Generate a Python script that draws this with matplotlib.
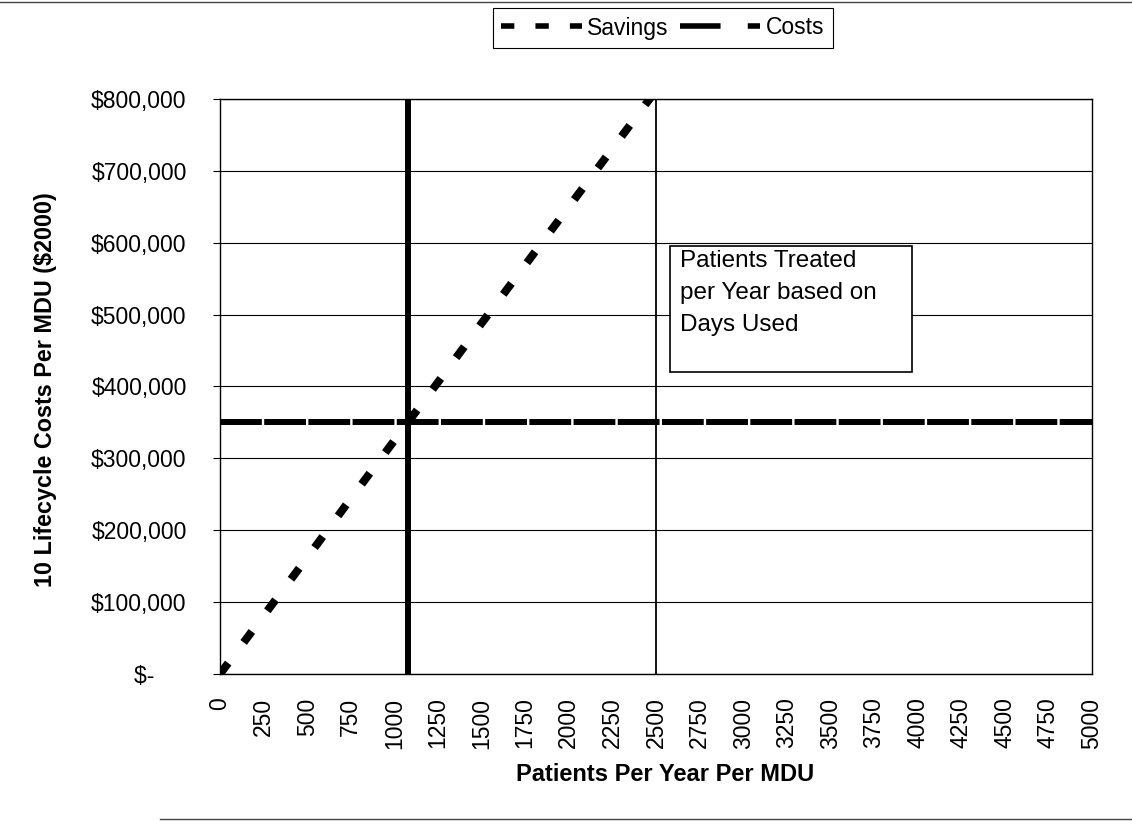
import matplotlib
matplotlib.use("Agg")
import matplotlib.pyplot as plt
from matplotlib.lines import Line2D
from matplotlib.patches import Rectangle
from matplotlib.ticker import FuncFormatter

plt.rcParams['font.family'] = ['Liberation Sans', 'DejaVu Sans']

# ---- data ----
patients_ticks = [0, 250, 500, 750, 1000, 1250, 1500, 1750, 2000, 2250, 2500,
                  2750, 3000, 3250, 3500, 3750, 4000, 4250, 4500, 4750, 5000]
savings_x = [0, 250, 500, 750, 1000, 1250, 1500, 1750, 2000, 2250, 2500]
savings_y = [0, 81000, 162000, 244000, 325000, 406000, 488000, 569000,
             650000, 731000, 812000]
costs_x = [0, 5000]
costs_y = [350000, 350000]
breakeven_x = [1080, 1080]
breakeven_y = [0, 800000]
days_used_x = [2500, 2500]
days_used_y = [0, 800000]
y_ticks = [0, 100000, 200000, 300000, 400000, 500000, 600000, 700000, 800000]
box_text = "Patients Treated\nper Year based on\nDays Used"

fig = plt.figure(figsize=(11.32, 8.21), dpi=100)
ax = fig.add_axes([220/1132, 1-674/821, 872/1132, 575/821])

ax.set_xlim(0, 5000)
ax.set_ylim(0, 800000)

ax.plot(savings_x, savings_y, color='black', lw=5.8,
        linestyle=(0, (1.7, 3.2)), solid_capstyle='butt', dash_capstyle='butt',
        zorder=3)
ax.plot(costs_x, costs_y, color='black', lw=4.3,
        linestyle=(0, (7, 0.4)), dash_capstyle='butt', zorder=3)
ax.plot(breakeven_x, breakeven_y, color='black', lw=4.3, zorder=3)
ax.plot(days_used_x, days_used_y, color='black', lw=1.3, zorder=3)

ax.set_yticks(y_ticks)
def yfmt(v, pos):
    if v == 0:
        return "$-     "
    return "${:,.0f}".format(v)
ax.yaxis.set_major_formatter(FuncFormatter(yfmt))
ax.set_xticks(patients_ticks)
ax.set_xticklabels([str(p) for p in patients_ticks], rotation=90)

ax.tick_params(axis='y', length=5, width=0.8, pad=19, labelsize=16.5, color='black')
ax.tick_params(axis='x', length=0, pad=17, labelsize=16.5)

ax.grid(axis='y', color='black', lw=0.8)
ax.set_axisbelow(True)
for s in ax.spines.values():
    s.set_color('black')
    s.set_linewidth(1.0)

ax.set_xlabel("Patients Per Year Per MDU", fontsize=17, fontweight='bold')
ax.xaxis.set_label_coords(0.51, -0.1545)
ax.set_ylabel("10 Lifecycle Costs Per MDU ($2000)", fontsize=16.8, fontweight='bold')
ax.yaxis.set_label_coords(-0.187, 0.494)

# text box
ax.add_patch(Rectangle((0.516, 0.525), 0.278, 0.219, transform=ax.transAxes,
                       facecolor='white', edgecolor='black', lw=1.2, zorder=4))
ax.text(0.527, 0.738, box_text, transform=ax.transAxes, fontsize=17.5,
        va='top', ha='left', linespacing=1.6, zorder=5)

# legend
h_sav = Line2D([], [], color='black', lw=4, linestyle=(0, (2.4, 3.8)),
               dash_capstyle='butt')
h_cost = Line2D([], [], color='black', lw=4, linestyle=(0, (7.3, 4.9)),
                dash_capstyle='butt')
leg = fig.legend([h_sav, h_cost], ["Savings", "Costs"], ncol=2,
                 loc='center', bbox_to_anchor=(663/1132, 1-28/821),
                 fontsize=16.5, handlelength=3.5, handletextpad=0.25,
                 columnspacing=0.5, borderpad=0.35, fancybox=False,
                 frameon=True, edgecolor='black', framealpha=1)
leg.get_frame().set_linewidth(0.8)

# scan page edge lines
fig.add_artist(Line2D([0, 1], [1-2/821, 1-2/821], transform=fig.transFigure,
                      color='#444444', lw=1))
fig.add_artist(Line2D([160/1132, 1], [1-819/821, 1-819/821],
                      transform=fig.transFigure, color='#444444', lw=1))

fig.savefig("out.png", dpi=100)
